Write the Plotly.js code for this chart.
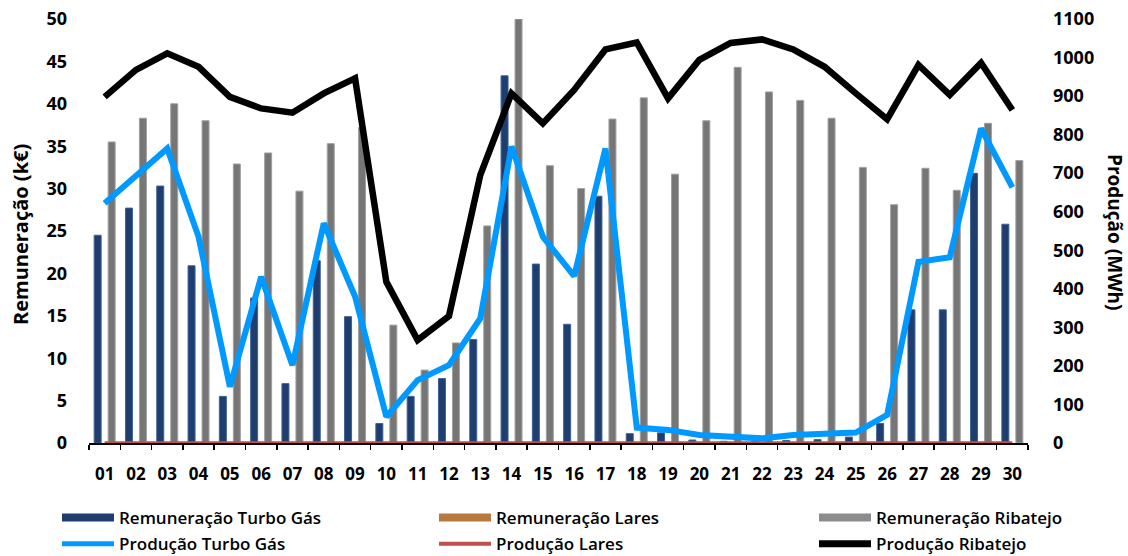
<!DOCTYPE html>
<html>
<head>
<meta charset="utf-8">
<script src="https://cdn.plot.ly/plotly-3.0.1.min.js"></script>
<style>html,body{margin:0;padding:0;background:#fff;}#chart{width:1128px;height:556px;}</style>
</head>
<body>
<div id="chart"></div>
<script>
const days = ["01","02","03","04","05","06","07","08","09","10","11","12","13","14","15","16","17","18","19","20","21","22","23","24","25","26","27","28","29","30"];
const remTurboGas = [24.5,27.7,30.3,20.9,5.5,17.1,7.0,21.5,14.9,2.3,5.5,7.6,12.2,43.3,21.1,14.0,29.1,1.1,1.2,0.35,0.2,0.2,0.3,0.4,0.7,2.3,15.7,15.7,31.8,25.8];
const remLares = [0,0,0,0,0,0,0,0,0,0,0,0,0,0,0,0,0,0,0,0,0,0,0,0,0,0,0,0,0,0];
const remRibatejo = [35.5,38.3,40.0,38.0,32.9,34.2,29.7,35.3,37.2,13.9,8.6,11.8,25.6,50.0,32.7,30.0,38.2,40.7,31.7,38.0,44.3,41.4,40.4,38.3,32.5,28.1,32.4,29.8,37.7,33.3];
const prodTurboGas = [622,695,764,535,146,431,202,570,380,68,163,202,323,769,535,433,764,40,34,21,16,12,21,25,27,73,470,482,816,663];
const prodLares = [0,0,0,0,0,0,0,0,0,0,0,0,0,0,0,0,0,0,0,0,0,0,0,0,0,0,0,0,0,0];
const prodRibatejo = [898,968,1011,976,898,868,857,907,946,418,267,329,695,907,829,916,1021,1039,894,994,1038,1047,1021,976,907,840,981,903,986,864];

const FONT = "Open Sans";
const C_TURBO_BAR = "#1f3d6d", C_TURBO_EDGE = "#3d6296";
const C_LARES_BAR = "#b8793f", C_LARES_EDGE = "#7a4f26";
const C_RIB_BAR = "#767676", C_RIB_EDGE = "#a0a0a0";
const C_TURBO_LINE = "#0099ff", C_LARES_LINE = "#c0504d", C_RIB_LINE = "#000000";

function legendOnly(name, color, width, legend) {
  return {type:"scatter", mode:"lines", name:name, x:[null], y:[null], legend:legend, legendgroup:name,
    line:{color:color, width:width}, hoverinfo:"skip"};
}

const traces = [
  {type:"bar", name:"Remuneração Turbo Gás", x:days, y:remTurboGas, yaxis:"y", showlegend:false,
   marker:{color:C_TURBO_BAR, line:{color:C_TURBO_EDGE, width:1}}},
  {type:"bar", name:"Remuneração Lares", x:days, y:remLares, yaxis:"y", showlegend:false,
   marker:{color:C_LARES_BAR, line:{color:C_LARES_EDGE, width:0}}},
  {type:"bar", name:"Remuneração Ribatejo", x:days, y:remRibatejo, yaxis:"y", showlegend:false,
   marker:{color:C_RIB_BAR, line:{color:C_RIB_EDGE, width:1}}},
  {type:"scatter", mode:"lines", name:"Produção Turbo Gás", x:days, y:prodTurboGas, yaxis:"y2", showlegend:false,
   line:{color:C_TURBO_LINE, width:6}},
  {type:"scatter", mode:"lines", name:"Produção Lares", x:days, y:prodLares, yaxis:"y2", showlegend:false,
   line:{color:C_LARES_LINE, width:3.5}, cliponaxis:false},
  {type:"scatter", mode:"lines", name:"Produção Ribatejo", x:days, y:prodRibatejo, yaxis:"y2", showlegend:false,
   line:{color:C_RIB_LINE, width:6.5}},
  legendOnly("Remuneração Turbo Gás", C_TURBO_BAR, 8, "legend"),
  legendOnly("Produção Turbo Gás", C_TURBO_LINE, 5, "legend"),
  legendOnly("Remuneração Lares", C_LARES_BAR, 8, "legend2"),
  legendOnly("Produção Lares", C_LARES_LINE, 4, "legend2"),
  legendOnly("Remuneração Ribatejo", "#8c8c8c", 8, "legend3"),
  legendOnly("Produção Ribatejo", C_RIB_LINE, 7, "legend3")
];

const legFont = {family:FONT, size:17, color:"#000", weight:600};
function leg(xpx) {
  return {orientation:"v", xref:"paper", yref:"container", x:(xpx - 89)/939, xanchor:"left",
    y:1 - 500/556, yanchor:"top", itemwidth:52, tracegroupgap:1, bgcolor:"rgba(0,0,0,0)",
    font:legFont};
}

const layout = {
  width:1128, height:556,
  margin:{l:89, r:100, t:19, b:113},
  paper_bgcolor:"#fff", plot_bgcolor:"#fff",
  font:{family:FONT, color:"#000", size:15},
  barmode:"group", bargap:0.33, bargroupgap:0,
  showlegend:true,
  xaxis:{type:"category", showgrid:false, zeroline:false, showline:true, linecolor:"#000", linewidth:1.5,
    layer:"below traces",
    ticks:"outside", tickson:"boundaries", ticklen:5, tickcolor:"#000", tickwidth:1.5,
    ticklabelstandoff:15, tickangle:0,
    tickfont:{family:FONT, size:17, color:"#000", weight:"bold"}},
  yaxis:{range:[0,50], dtick:5, showgrid:false, zeroline:false, showline:false, ticks:"",
    tickfont:{family:FONT, size:18, color:"#000", weight:"bold"}, ticklabelstandoff:21},
  yaxis2:{range:[0,1100], dtick:100, overlaying:"y", side:"right", showgrid:false, zeroline:false, showline:false, ticks:"",
    tickfont:{family:FONT, size:18, color:"#000", weight:"bold"}, ticklabelstandoff:24},
  legend:leg(57), legend2:leg(434), legend3:leg(814),
  annotations:[
    {text:"Remuneração (k€)", xref:"paper", yref:"paper", x:(20-89)/939, y:(443-235)/424, xanchor:"center", yanchor:"middle",
     textangle:-90, showarrow:false, font:{family:FONT, size:20, color:"#000", weight:"bold"}},
    {text:"Produção (MWh)", xref:"paper", yref:"paper", x:(1115-89)/939, y:(443-232)/424, xanchor:"center", yanchor:"middle",
     textangle:90, showarrow:false, font:{family:FONT, size:19, color:"#000", weight:"bold"}}
  ]
};

Plotly.newPlot("chart", traces, layout, {displayModeBar:false, staticPlot:true});
</script>
</body>
</html>
